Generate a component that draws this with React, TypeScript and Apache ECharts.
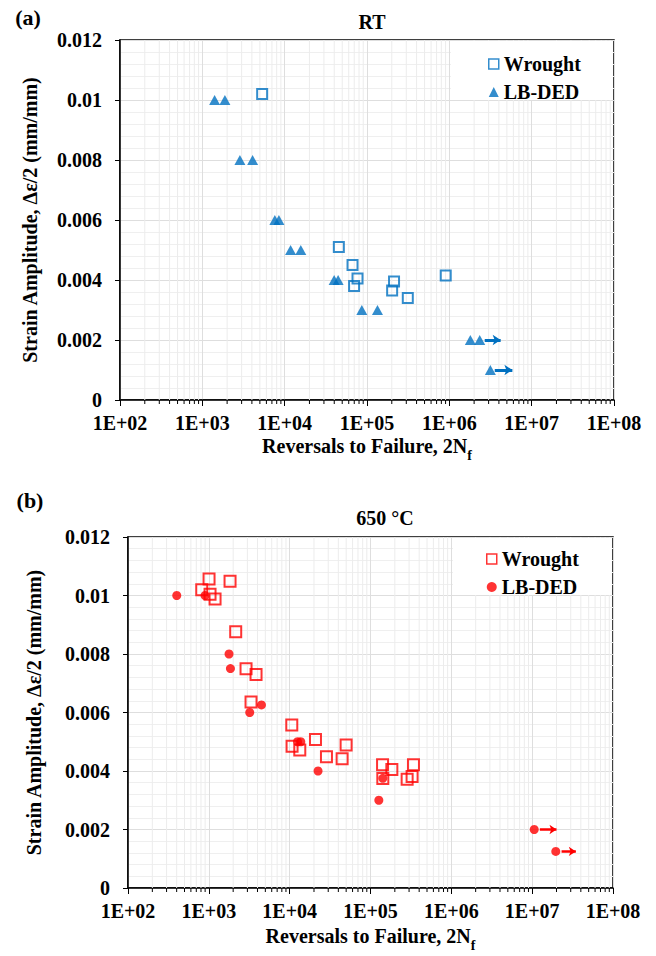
import React, { useEffect, useRef } from 'react';
import * as echarts from 'echarts';

const FONT = "'Liberation Serif', 'Times New Roman', serif";
const BLUE = '#0070C0';
const RED = '#FF0000';

// ---- axis definitions ----
const X_MIN = 100;
const X_MAX = 1e8;
const Y_MIN = 0;
const Y_MAX = 0.012;
const Y_STEP = 0.002;
const X_TITLE = 'Reversals to Failure, 2N{s|f}';
const Y_TITLE = 'Strain Amplitude, Δε/2 (mm/mm)';
const TITLE_A = 'RT';
const TITLE_B = '650 °C';
const SERIES_NAMES = ['Wrought', 'LB-DED'];

// ---- (a) RT data: [reversals, strain amplitude] ----
const RT_WROUGHT = [
  [5330, 0.0102], [45500, 0.0051], [66700, 0.0045], [76700, 0.00405],
  [69700, 0.0038], [213000, 0.00395], [202000, 0.00365], [313000, 0.0034],
  [904000, 0.00415],
];
const RT_LBDED = [
  [1410, 0.01], [1880, 0.01], [2860, 0.008], [4080, 0.008],
  [7600, 0.006], [8510, 0.006], [11800, 0.005], [15700, 0.005],
  [39900, 0.004], [44600, 0.004], [86500, 0.003], [134000, 0.003],
  [1.8e6, 0.002], [2.34e6, 0.002], [3.15e6, 0.001],
];
// run-out arrows: [from, to, strain]
const RT_RUNOUT = [
  [2.69e6, 4.2e6, 0.002],
  [3.56e6, 5.83e6, 0.001],
];

// ---- (b) 650 °C data ----
const HT_WROUGHT = [
  [1006, 0.01056], [1830, 0.01049], [817, 0.0102], [1035, 0.01004],
  [1194, 0.00988], [2150, 0.00876], [2886, 0.0075], [3837, 0.0073],
  [3327, 0.00636], [10620, 0.00557], [10710, 0.00485], [13340, 0.00472],
  [20860, 0.00508], [28520, 0.00449], [44570, 0.00442], [49940, 0.00489],
  [141000, 0.00421], [183700, 0.00405], [142000, 0.00374], [340000, 0.00421],
  [327000, 0.00381], [284000, 0.00372],
];
const HT_LBDED = [
  [401, 0.01], [898, 0.01], [1778, 0.008], [1850, 0.0075],
  [3206, 0.006], [4477, 0.00626], [12500, 0.005], [13720, 0.005],
  [22440, 0.004], [142000, 0.00375], [126800, 0.003],
  [1.06e7, 0.002], [1.96e7, 0.00125],
];
const HT_RUNOUT = [
  [1.245e7, 2.0e7, 0.002],
  [2.31e7, 3.47e7, 0.00125],
];

// log minor positions (2..9 within each decade)
const MINOR_MULT = [2, 3, 4, 5, 6, 7, 8, 9];
const DECADES = [2, 3, 4, 5, 6, 7];

function minorData() {
  const out: number[][] = [];
  DECADES.forEach((e) => MINOR_MULT.forEach((k) => out.push([k * Math.pow(10, e), 0])));
  return out;
}

const baseText = { fontFamily: FONT, fontWeight: 'bold' as const, color: '#000' };

function xAxisDef(gridIndex: number, nameGap: number) {
  return {
    type: 'log',
    logBase: 10,
    gridIndex,
    min: X_MIN,
    max: X_MAX,
    interval: 1,
    name: X_TITLE,
    nameLocation: 'middle',
    nameGap,
    nameTextStyle: {
      ...baseText,
      fontSize: 20,
      rich: { s: { ...baseText, fontSize: 14, verticalAlign: 'bottom', padding: [0, 0, -6, 0] } },
    },
    axisLine: { show: true, lineStyle: { color: '#000', width: 1.5 } },
    axisTick: { show: true, inside: false, length: 6, lineStyle: { color: '#000', width: 1 } },
    axisLabel: {
      ...baseText,
      fontSize: 20,
      margin: 13,
      formatter: (v: number) => '1E+' + String(Math.round(Math.log10(v))).padStart(2, '0'),
    },
    splitLine: { show: true, lineStyle: { color: '#dedede', width: 1 } },
    minorTick: { show: false },
    minorSplitLine: { show: false },
  };
}

function yAxisDef(gridIndex: number, nameGap: number) {
  return {
    type: 'value',
    gridIndex,
    min: Y_MIN,
    max: Y_MAX,
    interval: Y_STEP,
    name: Y_TITLE,
    nameLocation: 'middle',
    nameGap,
    nameTextStyle: { ...baseText, fontSize: 20 },
    axisLine: { show: true, lineStyle: { color: '#000', width: 1.5 } },
    axisTick: { show: true, inside: false, length: 5, lineStyle: { color: '#000', width: 1 } },
    axisLabel: {
      ...baseText,
      fontSize: 20,
      margin: 18,
      formatter: (v: number) => String(+v.toFixed(3)),
    },
    splitLine: { show: true, lineStyle: { color: '#dedede', width: 1 } },
    minorTick: { show: false, splitNumber: 5 },
    minorSplitLine: { show: true, lineStyle: { color: '#efefef', width: 1 } },
  };
}

function minorSeries(idx: number) {
  return {
    type: 'custom',
    xAxisIndex: idx,
    yAxisIndex: idx,
    silent: true,
    clip: false,
    z: 1,
    data: minorData(),
    encode: { x: 0, y: 1 },
    renderItem: (_p: any, api: any) => {
      const v = api.value(0);
      const t = api.coord([v, Y_MAX]);
      const b = api.coord([v, Y_MIN]);
      return {
        type: 'group',
        children: [
          { type: 'line', shape: { x1: t[0], y1: t[1], x2: b[0], y2: b[1] }, style: { stroke: '#ececec', lineWidth: 1 } },
          { type: 'line', shape: { x1: b[0], y1: b[1], x2: b[0], y2: b[1] + 4 }, style: { stroke: '#000', lineWidth: 1 } },
        ],
      };
    },
  };
}

function runoutLine(rows: number[][], color: string, width: number, size: number) {
  return {
    silent: true,
    symbol: ['none', 'arrow'],
    symbolSize: size,
    animation: false,
    label: { show: false },
    lineStyle: { color, width, type: 'solid' },
    emphasis: { disabled: true },
    data: rows.map(([a, b, y]) => [{ coord: [a, y] }, { coord: [b, y] }]),
  };
}

function label(text: string, x: number, y: number, size: number) {
  return {
    type: 'text', z: 10, x, y, silent: true,
    style: {
      text, fill: '#000', fontFamily: FONT, fontWeight: 'bold', fontSize: size,
      textAlign: 'center', textVerticalAlign: 'middle',
    },
  };
}

export default function App() {
  const ref = useRef<HTMLDivElement>(null);

  useEffect(() => {
    if (!ref.current) return;
    const chart = echarts.init(ref.current, null, { renderer: 'svg' });
    const option: any = {
      animation: false,
      backgroundColor: '#fff',
      grid: [
        { left: 120, top: 40, width: 494, height: 360, show: true, borderColor: '#000', borderWidth: 1.5, backgroundColor: 'transparent' },
        { left: 128, top: 537, width: 485, height: 351, show: true, borderColor: '#000', borderWidth: 1.5, backgroundColor: 'transparent' },
      ],
      xAxis: [xAxisDef(0, 36), xAxisDef(1, 38)],
      yAxis: [yAxisDef(0, 80), yAxisDef(1, 84)],
      legend: [
        {
          orient: 'vertical', left: 483, top: 49, itemWidth: 10, itemHeight: 10, itemGap: 8, z: 10,
          selectedMode: false,
          textStyle: { ...baseText, fontSize: 20, lineHeight: 20 },
          data: [
            { name: SERIES_NAMES[0], icon: 'rect', itemStyle: { color: '#fff', borderColor: BLUE, borderWidth: 1.5 } },
            { name: SERIES_NAMES[1], icon: 'triangle', itemStyle: { color: BLUE, borderWidth: 0 } },
          ],
        },
        {
          orient: 'vertical', left: 481, top: 544, itemWidth: 10, itemHeight: 10, itemGap: 8, z: 10,
          selectedMode: false,
          textStyle: { ...baseText, fontSize: 20, lineHeight: 20 },
          data: [
            { name: SERIES_NAMES[0], icon: 'rect', itemStyle: { color: '#fff', borderColor: RED, borderWidth: 1.5 } },
            { name: SERIES_NAMES[1], icon: 'circle', itemStyle: { color: RED, borderWidth: 0 } },
          ],
        },
      ],
      graphic: [
        { type: 'rect', z: 3, silent: true, shape: { x: 451, y: 41, width: 162, height: 59 }, style: { fill: '#fff' } },
        { type: 'rect', z: 3, silent: true, shape: { x: 453, y: 538, width: 159, height: 57 }, style: { fill: '#fff' } },
        label(TITLE_A, 372, 22, 20),
        label(TITLE_B, 385, 518, 20),
        label('(a)', 28, 17, 22),
        label('(b)', 30, 500, 22),
      ],
      series: [
        minorSeries(0),
        minorSeries(1),
        {
          name: SERIES_NAMES[0], type: 'scatter', xAxisIndex: 0, yAxisIndex: 0, z: 5,
          symbol: 'rect', symbolSize: 10,
          itemStyle: { color: 'rgba(255,255,255,0)', borderColor: BLUE, borderWidth: 2 },
          data: RT_WROUGHT,
        },
        {
          name: SERIES_NAMES[1], type: 'scatter', xAxisIndex: 0, yAxisIndex: 0, z: 5,
          symbol: 'triangle', symbolSize: [11, 10],
          itemStyle: { color: BLUE },
          data: RT_LBDED,
          markLine: runoutLine(RT_RUNOUT, BLUE, 3, 8),
        },
        {
          name: SERIES_NAMES[0], type: 'scatter', xAxisIndex: 1, yAxisIndex: 1, z: 5,
          symbol: 'rect', symbolSize: 11,
          itemStyle: { color: 'rgba(255,255,255,0)', borderColor: RED, borderWidth: 2 },
          data: HT_WROUGHT,
        },
        {
          name: SERIES_NAMES[1], type: 'scatter', xAxisIndex: 1, yAxisIndex: 1, z: 5,
          symbol: 'circle', symbolSize: 9,
          itemStyle: { color: RED },
          data: HT_LBDED,
          markLine: runoutLine(HT_RUNOUT, RED, 2.5, 7),
        },
      ],
    };
    chart.setOption(option);
    return () => chart.dispose();
  }, []);

  return (
    <div
      ref={ref}
      style={{ position: 'fixed', left: 0, top: 0, width: 656, height: 956, background: '#fff' }}
    />
  );
}
